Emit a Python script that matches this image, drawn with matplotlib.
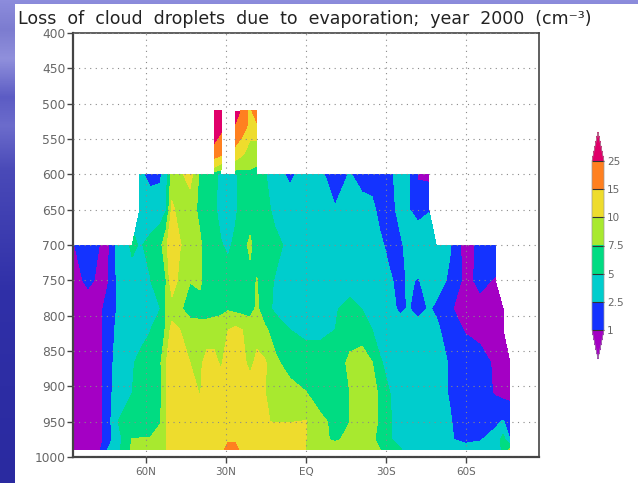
import numpy as np
import matplotlib
matplotlib.use("Agg")
import matplotlib.pyplot as plt
from matplotlib.colors import ListedColormap, BoundaryNorm, LinearSegmentedColormap

N = np.nan

# contour levels and colours
levels = [1, 2.5, 5, 7.5, 10, 15, 25]
level_labels = ["1", "2.5", "5", "7.5", "10", "15", "25"]
under_color = "#a400c4"
fill_colors = ["#1433ff", "#00cdcd", "#00dc82", "#a8e92f", "#eedc2d", "#ff8020"]
over_color = "#e0006a"

# latitude of each column (positive = north)
lat = [87.4, 81.8, 77.3, 74.3, 70.5, 65.2, 62.3, 58.5, 54.8, 52.5,
       50.3, 47.3, 43.5, 39.8, 37.1, 34.5, 31.9, 29.3, 26.6, 23.9,
       21, 18.4, 15.4, 11.6, 6, 0, -5.2, -10.9, -16.5, -21,
       -24.8, -27.8, -31.5, -35.3, -38.3, -42, -46.1, -48.8, -54, -59.6,
       -65.3, -70.9, -73.9, -76.5]
pressure = [600, 650, 700, 750, 790, 820, 867, 910, 950, 975, 990]

# values, one list per pressure level
p600 = [N]*6 + [3.0, 1.8, 2.0, 4, 8.5, 9.5, 11, 7, 6, 5.5,
                4.5, 3.8, 4.5, 6, 6, 6, 5.2, 3.5, 2, 3.5,
                2.8, 1.8, 2.6, 1.8, 1.8, 1.8, 2, 3.5, 2.7, 0.8,
                0.6] + [N]*7
p650 = [N]*6 + [3.6, 3.8, 3.9, 4.8, 10.5, 9, 8.5, 7, 6.5, 5.5,
                4, 3.8, 4.5, 6, 6.2, 6, 5.6, 4.5, 3.8, 3.7,
                3.5, 2.6, 3.2, 3.2, 2.9, 2.0, 1.9, 3.0, 2.6, 2,
                2.4] + [N]*7
p700 = [0.9, 1.8, 0.95, 0.7, 3, 5.5, 4.8, 5.5, 6.5, 9.5,
        12, 10.2, 8.5, 7.8, 6.5, 6, 5.2, 4.5, 5.5, 6.5,
        8, 6.2, 6, 5.5, 4.5, 3.8, 3.6, 3.5, 3.5, 3.5,
        3.2, 2.8, 2, 2.2, 3, 3.5, 3.5, 3.2, 2.6, 0.4,
        1.3, 1.8] + [N]*2
p750 = [0.6, 1.2, 0.8, 0.9, 2.9, 4, 4.2, 4.9, 6.5, 7.4,
        12, 9, 7.6, 8, 6.2, 6, 6, 6, 6, 6.5,
        6.8, 7.6, 5.5, 4.9, 4, 3.8, 3.6, 3.5, 3.5, 3.5,
        3.2, 3, 2.7, 2, 2.7, 2.4, 3, 3, 2.3, 0.6,
        1.3, 0.9] + [N]*2
p790 = [0.5, 0.5, 0.7, 1.5, 2.7, 3.5, 4, 4.2, 4.9, 8,
        8.5, 7.8, 6.5, 6.5, 6.5, 6.8, 7, 7.2, 6.8, 6.5,
        6.5, 7.9, 6, 4.5, 3.8, 3.6, 3.5, 4.7, 6, 4.9,
        3.5, 3.2, 3, 2.2, 2.6, 2.0, 2.6, 2.3, 1.1, 0.6,
        0.6, 0.6, 0.6] + [N]
p820 = [0.5, 0.5, 0.7, 1.5, 3, 3.8, 4.2, 4.9, 6.5, 7.7,
        11, 10, 8.7, 8.5, 8.5, 8.5, 8.5, 9.9, 10.6, 10,
        9, 8.5, 7.9, 6.5, 5, 4.5, 4.5, 5, 6.5, 6.5,
        5, 3.8, 3.5, 3.3, 3.2, 3.2, 3.2, 2.8, 1.8, 0.9,
        0.6, 0.6, 0.6] + [N]
p867 = [0.5, 0.5, 0.7, 1.5, 3.5, 4.8, 5.5, 6, 7, 9.9,
        12, 12, 10, 9.5, 11, 11, 9.5, 12, 12, 11,
        9, 11, 10.3, 8, 6.5, 6, 6, 6.2, 8, 8.5,
        7.6, 5.3, 4, 3.5, 3.3, 3.2, 3.2, 3, 2.4, 1.8,
        1.5, 0.8, 0.6, 0.6]
p910 = [0.5, 0.5, 0.7, 1.5, 4, 5, 5.5, 6, 6.5, 9.9,
        12, 12, 12, 9.8, 11.5, 12, 12, 12, 12, 12,
        12, 12, 10.1, 8.5, 8.5, 7.6, 6.5, 6.5, 7.5, 8.5,
        8.5, 7, 5, 4, 3.5, 3.3, 3.2, 3, 2.4, 1.8,
        1.5, 0.9, 0.6, 0.6]
p950 = [0.5, 0.5, 0.7, 1.5, 5, 6, 6.3, 6.5, 7.3, 9.8,
        12, 12.5, 13, 13, 13, 13, 13, 13, 13, 13,
        13, 12, 10.2, 9.8, 9.9, 10.1, 8, 7, 7.5, 8.5,
        8.5, 7, 5.2, 4, 3.5, 3.2, 3, 3, 2.6, 1.8,
        1.8, 2.2, 2.6, 2]
p975 = [0.5, 0.5, 0.7, 1.5, 4, 7.6, 7.6, 7.6, 8.5, 9.9,
        12, 13, 13, 13, 13, 13, 13, 14, 14, 13,
        13, 13, 13, 13, 12, 10, 8, 7.2, 8, 8.5,
        7.8, 7, 5.2, 4, 3.5, 3.2, 3, 3, 2.6, 2.2,
        2.4, 3, 6, 2.4]
p990 = [0.5, 0.5, 0.9, 2.6, 4.5, 8, 8, 8.5, 9, 9.9,
        12, 13, 13, 13, 13, 13, 13, 17, 17, 13,
        13, 13, 13, 13, 12, 10, 8.5, 8.5, 8.5, 8.5,
        8.5, 7.5, 6, 5.3, 4, 3.5, 3.2, 3, 3, 3,
        3, 3.2, 5.5, 8]
values = np.array([p600, p650, p700, p750, p790, p820, p867, p910, p950, p975, p990])

# the two narrow columns reaching up to 510 hPa
tower_pressure = [510, 530, 550, 570, 585, 600]
tower1_lat = [34.5, 31.7]
tower1 = [[30, 30], [30, 30], [28, 20], [18, 16], [12, 10], [6, 5.5]]
tower2_lat = [26.6, 23.9, 21, 18.4]
tower2 = [[40, 20, 13, 20], [24, 19, 13, 14], [18, 14, 10.2, 10.2],
          [12, 10.5, 8.5, 8.5], [9, 8.5, 8.5, 8], [6.5, 6.5, 6.5, 5.5]]

xtick_pos = [60, 30, 0, -30, -60]
xtick_labels = ["60N", "30N", "EQ", "30S", "60S"]
ytick_pos = list(range(400, 1001, 50))

W, H = 638, 483
fig = plt.figure(figsize=(W / 100, H / 100), dpi=100)

# slide background: blue gradient with a white panel on top
bg = fig.add_axes([0, 0, 1, 1])
grad = LinearSegmentedColormap.from_list(
    "slide", [(0, "#8c8cdc"), (0.06, "#7c7cd0"), (0.12, "#9090dc"), (0.2, "#5c5cc4"),
              (0.26, "#6c6ccc"), (0.35, "#4a4ab8"), (0.6, "#3030a8"), (1, "#2a2aa0")])
bg.imshow(np.linspace(0, 1, 256).reshape(-1, 1), cmap=grad, aspect="auto", extent=[0, W, H, 0])
bg.fill_between([15, W], 4, H, color="white", lw=0)
bg.set_xlim(0, W)
bg.set_ylim(H, 0)
bg.axis("off")

ax = fig.add_axes([73 / W, (H - 457) / H, 466 / W, 424 / H])
cmap = ListedColormap(fill_colors)
cmap.set_under(under_color)
cmap.set_over(over_color)
norm = BoundaryNorm(levels, cmap.N)

cf = ax.contourf(lat, pressure, values, levels=levels, cmap=cmap, norm=norm, extend="both")
ax.contourf(tower1_lat, tower_pressure, tower1, levels=levels, cmap=cmap, norm=norm, extend="both")
ax.contourf(tower2_lat, tower_pressure, tower2, levels=levels, cmap=cmap, norm=norm, extend="both")

ax.set_xlim(87.4, -87.4)
ax.set_ylim(1000, 400)
ax.set_xticks(xtick_pos)
ax.set_xticklabels(xtick_labels, fontsize=7.5, color="#666666")
ax.set_yticks(ytick_pos)
ax.tick_params(axis="y", labelsize=8.8, labelcolor="#666666", length=4, width=1, color="#444444", pad=1.5)
ax.tick_params(axis="x", length=4, width=1, color="#444444", pad=3)
ax.set_axisbelow(False)
ax.grid(True, linestyle=(0, (1, 4)), color="#8a8a8a", linewidth=0.8)
for side in ax.spines:
    ax.spines[side].set_color("#444444")
    ax.spines[side].set_linewidth(1.2)
ax.spines["left"].set_linewidth(1.6)
ax.spines["bottom"].set_linewidth(1.6)

fig.text(18 / W, 1 - 19 / H, "Loss  of  cloud  droplets  due  to  evaporation;  year  2000  (cm\u207b\u00b3)",
         fontsize=12.55, color="#222222", va="center", ha="left", family="DejaVu Sans")

# colour key, the axes hold the body plus both pointed ends
cax = fig.add_axes([592 / W, (H - 359) / H, 12 / W, 227 / H])
cb = fig.colorbar(cf, cax=cax, extend="both", extendfrac=0.172, spacing="uniform", drawedges=True)
cb.set_ticks(levels)
cb.set_ticklabels(level_labels)
cb.ax.tick_params(length=0, labelsize=7.5, labelcolor="#666666", pad=2)
cb.dividers.set_color("#333333")
cb.dividers.set_linewidth(0.8)
cb.outline.set_edgecolor("#999999")
cb.outline.set_linewidth(0.5)

fig.savefig("out.png", dpi=100)
